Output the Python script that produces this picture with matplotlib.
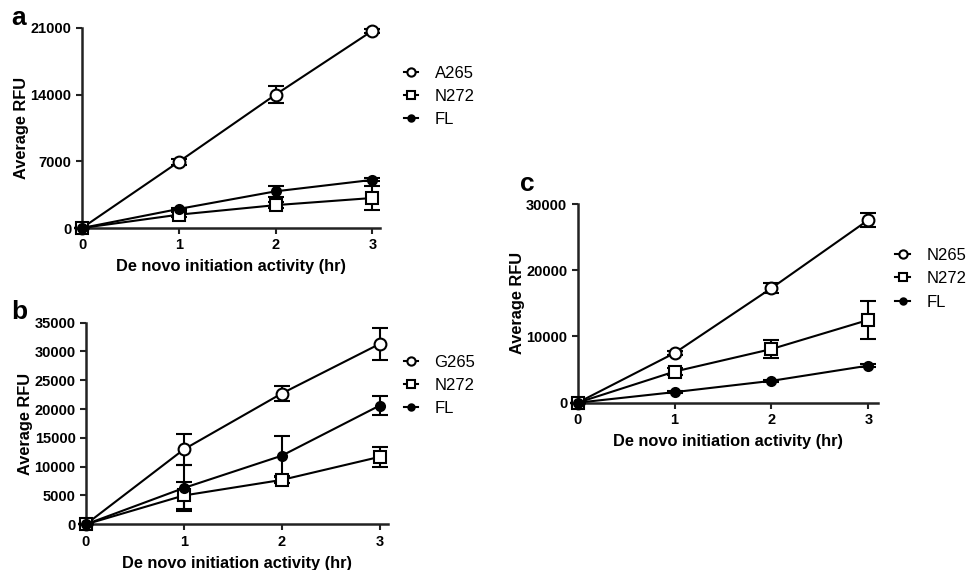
import matplotlib.pyplot as plt
from matplotlib.lines import Line2D
import numpy as np

plt.rcParams['font.family'] = ['Liberation Sans', 'DejaVu Sans']

# time points (hr)
hours = [0, 1, 2, 3]

# panel a
a_names = ['A265', 'N272', 'FL']
a_mean = [[0, 6950, 14000, 20700],
          [0, 1400, 2400, 3150],
          [0, 2000, 3850, 5050]]
a_err = [[0, 300, 900, 200],
         [0, 250, 300, 1250],
         [0, 150, 600, 150]]

# panel b
b_names = ['G265', 'N272', 'FL']
b_mean = [[0, 13000, 22700, 31300],
          [0, 5000, 7700, 11700],
          [0, 6300, 11900, 20600]]
b_err = [[0, 2700, 1300, 2800],
         [0, 2300, 500, 1700],
         [0, 4000, 3500, 1700]]

# panel c
c_names = ['N265', 'N272', 'FL']
c_mean = [[0, 7500, 17300, 27600],
          [0, 4700, 8100, 12500],
          [0, 1600, 3300, 5600]]
c_err = [[0, 300, 700, 1000],
         [0, 500, 1400, 2900],
         [0, 150, 200, 200]]

styles = [dict(marker='o', mfc='white', ms=8.5, mew=1.5),
          dict(marker='s', mfc='white', ms=8.5, mew=1.5),
          dict(marker='o', mfc='black', ms=6.5, mew=1.5)]
axcol = '#222222'


def panel(rect, names, means, errs, ymax, yticks, letter, letter_xy, leg_xy, xmax):
    ax = fig.add_axes(rect)
    handles = []
    for name, m, e, st in zip(names, means, errs, styles):
        ax.errorbar(hours, m, yerr=e, color='black', lw=1.5, capsize=6,
                    capthick=1.5, elinewidth=1.5, mec='black',
                    clip_on=False, zorder=3, **st)
        leg_st = dict(st)
        leg_st['ms'] = st['ms'] * 0.7
        handles.append(Line2D([], [], color='black', lw=1.5, mec='black',
                              label=name, **leg_st))
    ax.set_xlim(0, xmax)
    ax.set_ylim(0, ymax)
    ax.set_xticks(hours)
    ax.set_yticks(yticks)
    for s in ['top', 'right']:
        ax.spines[s].set_visible(False)
    for s in ['left', 'bottom']:
        ax.spines[s].set_linewidth(1.8)
        ax.spines[s].set_color(axcol)
    ax.tick_params(width=1.5, length=4, labelsize=10.5, color=axcol)
    for t in ax.get_xticklabels() + ax.get_yticklabels():
        t.set_fontweight('bold')
    ax.set_xlabel('De novo initiation activity (hr)', fontsize=11.8, fontweight='bold',
                  labelpad=5)
    ax.set_ylabel('Average RFU', fontsize=11.8, fontweight='bold', labelpad=1)
    fig.text(letter_xy[0], letter_xy[1], letter, fontsize=19, fontweight='bold')
    ax.legend(handles=handles, loc='upper left', bbox_to_anchor=leg_xy,
              bbox_transform=fig.transFigure, frameon=False, fontsize=12,
              handlelength=0.85, handletextpad=1.0,
              borderpad=0, borderaxespad=0, labelspacing=0.5)
    return ax


fig = plt.figure(figsize=(9.66, 5.70), dpi=100)

panel([0.0849, 0.6, 0.3085, 0.3509], a_names, a_mean, a_err, 21000,
      [0, 7000, 14000, 21000], 'a', (0.012, 0.957), (0.418, 0.885), 3.08)
panel([0.089, 0.0802, 0.313, 0.3537], b_names, b_mean, b_err, 35000,
      [0, 5000, 10000, 15000, 20000, 25000, 30000, 35000], 'b', (0.012, 0.44),
      (0.418, 0.378), 3.09)
panel([0.598, 0.2935, 0.311, 0.3486], c_names, c_mean, c_err, 30000,
      [0, 10000, 20000, 30000], 'c', (0.538, 0.665), (0.927, 0.565), 3.1)

fig.savefig('out.png', dpi=100)
